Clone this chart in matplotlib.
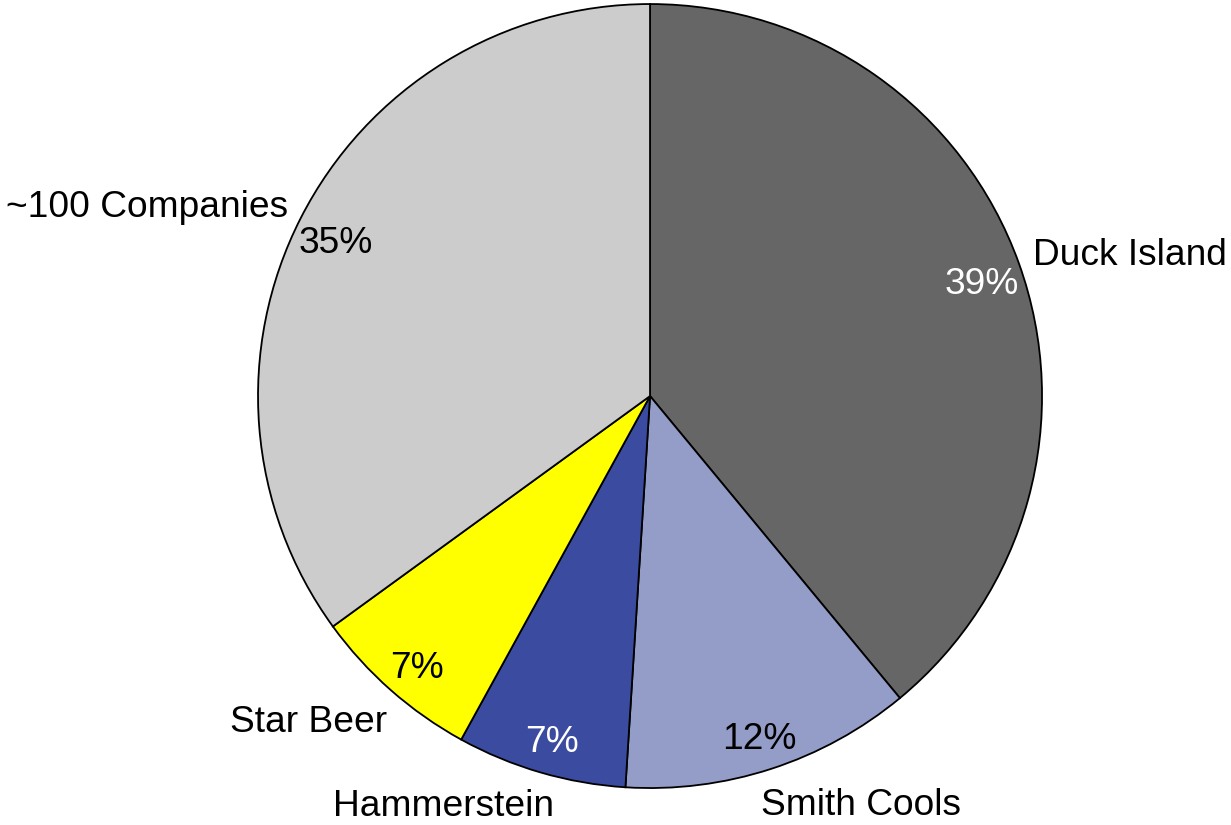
import matplotlib
matplotlib.use('Agg')
import matplotlib.pyplot as plt

labels = ['Duck Island', 'Smith Cools', 'Hammerstein', 'Star Beer', '~100 Companies']
shares = [39, 12, 7, 7, 35]
colors = ['#666666', '#949dc8', '#3b4ca0', '#ffff00', '#cccccc']
pct_colors = ['white', 'black', 'white', 'black', 'black']

# small nudges of the outer labels (data units, radius = 1)
label_nudge = [(-0.02, 0.0), (-0.045, -0.036), (0.05, -0.03), (0.03, -0.038), (0.02, 0.0)]

plt.rcParams['font.family'] = ['Liberation Sans', 'DejaVu Sans']

fig = plt.figure(figsize=(12.31, 8.25), dpi=100)
ax = fig.add_axes([0.2096, 0.0448, 0.6369, 0.9503])

wedges, texts, autotexts = ax.pie(
    shares, labels=labels, colors=colors, startangle=90, counterclock=False,
    autopct='%d%%', pctdistance=0.9, labeldistance=1.06,
    wedgeprops=dict(edgecolor='black', linewidth=1.3),
    textprops=dict(fontsize=26.7))

for t, (dx, dy) in zip(texts, label_nudge):
    x, y = t.get_position()
    t.set_position((x + dx, y + dy))

for t, c in zip(autotexts, pct_colors):
    t.set_color(c)
    x, y = t.get_position()
    t.set_position((x, y - 0.02))

ax.set_xlim(-1, 1)
ax.set_ylim(-1, 1)
ax.set_aspect('auto')
ax.axis('off')

fig.savefig('out.png', dpi=100)
